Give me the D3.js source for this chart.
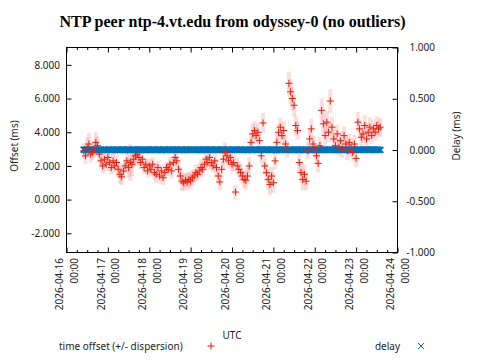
<!DOCTYPE html>
<html>
<head>
<meta charset="utf-8">
<script src="https://cdn.jsdelivr.net/npm/d3@7"></script>
<style>
html,body{margin:0;padding:0;background:#fff;}
svg{display:block;}
</style>
</head>
<body>
<svg id="chart" width="480" height="360"></svg>
<script>
// ---- data ----
const title = "NTP peer ntp-4.vt.edu from odyssey-0 (no outliers)";
const dayLabels = ["2026-04-16","2026-04-17","2026-04-18","2026-04-19","2026-04-20","2026-04-21","2026-04-22","2026-04-23","2026-04-24"];
const timeLabel = "00:00";
const offsetTicks = [-2, 0, 2, 4, 6, 8];
const delayTicks = [-1, -0.5, 0, 0.5, 1];
// hours after 2026-04-16 00:00 UTC
const hours = [10,11,12,13,14,15,16,17,18,19,20,21,22,23,24,25,26,27,28,29,30,31,32,33,34,35,36,37,38,39,
  40,41,42,43,44,45,46,47,48,49,50,51,52,53,54,55,56,57,58,59,60,61,62,63,64,65,66,67,68,69,
  70,71,72,73,74,75,76,77,78,79,80,81,82,83,84,85,86,87,88,89,90,91,92,93,94,95,96,97,98,99,
  100,101,102,103,104,105,106,107,108,109,110,111,112,113,114,115,116,117,118,119,
  120,121,122,123,124,125,126,127,128,129,130,131,132,133,134,135,136,137,138,139,
  140,141,142,143,144,145,146,147,148,149,150,151,152,153,154,155,156,157,158,159,
  160,161,162,163,164,165,166,167,168,169,170,171,172,173,174,175,176,177,178,179,180,181,182];
// time offset (ms)
const offsets = [2.9,2.6,3.1,3.3,2.7,2.8,3.0,3.4,3.2,2.7,
  2.3,2.0,2.4,2.1,2.5,2.2,1.9,2.3,2.0,2.2,
  1.8,1.5,1.35,1.7,2.0,2.3,1.9,2.2,2.1,2.4,
  2.6,2.7,2.5,2.2,2.4,1.9,2.1,1.7,2.0,1.8,
  2.1,1.6,1.5,1.9,1.4,1.7,1.3,1.6,1.9,1.8,
  2.1,1.7,2.2,2.5,2.3,1.8,1.4,1.1,1.0,1.15,
  1.05,1.2,1.1,1.3,1.4,1.6,1.5,1.7,1.9,1.8,
  2.1,2.4,2.2,2.5,2.2,2.0,2.3,1.9,1.4,1.05,
  1.8,2.4,2.8,2.6,2.3,2.5,2.1,2.2,0.45,2.0,
  1.8,1.6,1.4,1.2,1.15,1.4,2.0,3.4,3.9,4.1,
  3.8,4.0,3.5,2.6,4.55,2.0,1.6,1.2,0.9,1.4,
  1.0,2.3,3.4,4.0,4.3,3.8,4.1,3.3,3.0,6.9,
  6.4,6.0,5.6,4.4,4.1,2.2,1.6,1.2,1.5,1.1,
  2.9,3.6,4.2,3.3,3.0,2.6,2.15,3.2,5.3,4.5,
  3.8,4.6,4.0,5.85,4.3,3.6,3.2,3.9,3.1,3.5,
  3.0,3.8,3.3,2.9,3.4,3.1,2.8,3.3,2.45,4.6,
  4.2,3.7,3.9,4.4,3.6,4.0,4.3,3.8,4.2,4.0,
  4.4,4.2,4.3];
// dispersion (ms)
const dispersions = [0.45,0.5,0.6,0.65,0.5,0.45,0.5,0.6,0.55,0.45,
  0.4,0.45,0.5,0.4,0.45,0.5,0.4,0.45,0.4,0.45,
  0.5,0.55,0.5,0.45,0.4,0.5,0.6,1.1,0.7,0.5,
  0.55,0.5,0.45,0.4,0.45,0.4,0.35,0.4,0.45,0.4,
  0.4,0.45,0.5,0.4,0.45,0.4,0.45,0.4,0.35,0.4,
  0.4,0.45,0.4,0.45,0.4,0.45,0.5,0.55,0.5,0.45,
  0.5,0.45,0.5,0.45,0.4,0.45,0.4,0.45,0.5,0.45,
  0.45,0.5,0.45,0.5,0.45,0.4,0.45,0.5,0.45,0.5,
  0.5,0.55,0.6,0.5,0.45,0.5,0.45,0.5,0.45,0.5,
  0.45,0.5,0.45,0.5,0.55,0.5,0.5,0.55,0.6,0.55,
  0.5,0.55,0.5,0.5,0.6,0.5,0.55,0.6,0.65,0.55,
  0.6,0.5,0.55,0.5,0.55,0.5,0.55,0.5,0.5,0.7,
  0.75,0.7,0.65,0.6,0.55,0.6,0.6,0.65,0.6,0.55,
  0.5,0.55,0.6,0.5,0.55,0.5,0.55,0.5,0.7,0.65,
  0.6,0.65,0.6,0.7,0.6,0.55,0.5,0.55,0.5,0.55,
  0.5,0.55,0.5,0.55,0.5,0.55,0.5,0.55,0.5,0.6,
  0.55,0.5,0.55,0.6,0.5,0.55,0.6,0.5,0.55,0.5,
  0.55,0.5,0.55];
// delay (ms)
const delays = [0.004,0.002,0.005,0.001,0.003,0.000,0.002,0.004,0.001,0.003,
  0.002,-0.001,0.003,0.001,0.004,0.002,0.000,0.003,0.001,0.002,
  0.003,0.001,0.004,0.002,0.000,0.003,0.002,0.001,0.004,0.002,
  0.001,0.003,0.002,0.004,0.001,0.002,0.000,0.003,0.002,0.001,
  0.004,0.002,0.001,0.003,0.002,0.000,0.002,0.004,0.001,0.003,
  0.002,0.001,0.003,0.002,0.004,0.001,0.002,0.003,0.000,0.002,
  0.003,0.001,0.002,0.004,0.002,0.001,0.003,0.002,0.000,0.003,
  0.002,0.004,0.001,0.002,0.003,0.001,0.002,0.004,0.002,0.001,
  0.003,0.002,0.000,0.002,0.004,0.001,0.003,0.002,0.001,0.003,
  0.002,0.004,0.001,0.002,0.003,0.000,0.002,0.003,0.001,0.004,
  0.002,0.001,0.003,0.002,0.004,0.001,0.002,0.003,0.001,0.002,
  0.004,0.002,0.000,0.003,0.001,0.002,0.004,0.002,0.001,0.003,
  0.002,0.001,0.003,0.004,0.002,0.000,0.002,0.003,0.001,0.002,
  0.004,0.001,0.002,0.003,0.002,0.001,0.004,0.002,0.000,0.003,
  0.002,0.001,0.003,0.002,0.004,0.001,0.002,0.003,0.002,0.001,
  0.003,0.002,0.004,0.001,0.002,0.000,0.003,0.002,0.001,0.004,
  0.002,0.003,0.001,0.002,0.004,0.002,0.001,0.003,0.002,0.001,
  0.003,0.002,0.001];
const legendLabels = ["time offset (+/- dispersion)", "delay"];
const axisTitles = {x: "UTC", y: "Offset (ms)", y2: "Delay (ms)"};

// ---- layout ----
const L = 66.5, R = 397.5, T = 47.5, B = 252.5;
const RED = "#e5200f", BLUE = "#0072b6", PINK = "rgb(238,110,110)";
const FONT = "'Noto Sans', 'Open Sans', sans-serif";

const parseDay = d3.utcParse("%Y-%m-%d");
const startDate = parseDay(dayLabels[0]);
const times = hours.map(h => d3.utcHour.offset(startDate, h));

const x = d3.scaleUtc().domain([parseDay(dayLabels[0]), parseDay(dayLabels[dayLabels.length-1])]).range([L, R]);
const y = d3.scaleLinear().domain([-3.14, 9.03]).range([B, T]);
const y2 = d3.scaleLinear().domain([-1, 1]).range([B, T]);

const svg = d3.select("#chart");

// title
svg.append("text").attr("x", 232.5).attr("y", 27).attr("text-anchor", "middle")
  .attr("font-family", "'Liberation Serif', 'Times New Roman', serif").attr("font-weight", "bold")
  .attr("font-size", "16px").attr("fill", "#000").text(title);

const plot = svg.append("g");

// dispersion bars
plot.append("g").selectAll("rect").data(hours).join("rect")
  .attr("x", (d, i) => x(times[i]) - 2)
  .attr("width", 4)
  .attr("y", (d, i) => y(offsets[i] + dispersions[i]))
  .attr("height", (d, i) => y(offsets[i] - dispersions[i]) - y(offsets[i] + dispersions[i]))
  .attr("fill", PINK).attr("fill-opacity", 0.22);

// delay markers (x)
const xPath = "M-3,-3L3,3M-3,3L3,-3";
const plusPath = "M-3.5,0H3.5M0,-3.5V3.5";
plot.append("g").selectAll("path").data(hours).join("path")
  .attr("transform", (d, i) => `translate(${x(times[i])},${y2(delays[i])})`)
  .attr("d", xPath).attr("stroke", BLUE).attr("stroke-width", 2).attr("fill", "none");

// offset markers (+)
plot.append("g").selectAll("path").data(hours).join("path")
  .attr("transform", (d, i) => `translate(${x(times[i])},${y(offsets[i])})`)
  .attr("d", plusPath).attr("stroke", RED).attr("stroke-width", 1).attr("fill", "none");

// axes
const dayTicks = dayLabels.map(parseDay);
const minorTicks = x.ticks(d3.utcHour.every(6)).filter(t => t.getUTCHours() !== 0);

function styleAxis(g) {
  g.select(".domain").remove();
  g.selectAll("line").attr("stroke", "#000").attr("stroke-width", 1);
  g.selectAll("text").attr("font-family", FONT).attr("font-size", "10px").attr("fill", "#222");
}

svg.append("g").attr("transform", `translate(0,${B})`)
  .call(d3.axisBottom(x).tickValues(dayTicks).tickSize(-5).tickFormat(""))
  .call(styleAxis);
svg.append("g").attr("transform", `translate(0,${B})`)
  .call(d3.axisBottom(x).tickValues(minorTicks).tickSize(-2.5).tickFormat(""))
  .call(styleAxis);
svg.append("g").attr("transform", `translate(0,${T})`)
  .call(d3.axisTop(x).tickValues(dayTicks).tickSize(-5).tickFormat(""))
  .call(styleAxis);
svg.append("g").attr("transform", `translate(0,${T})`)
  .call(d3.axisTop(x).tickValues(minorTicks).tickSize(-2.5).tickFormat(""))
  .call(styleAxis);

svg.append("g").attr("transform", `translate(${L},0)`)
  .call(d3.axisLeft(y).tickValues(offsetTicks).tickSize(-5).tickPadding(6.5).tickFormat(d => d.toFixed(3)))
  .call(styleAxis);
const ry = svg.append("g").attr("transform", `translate(${R},0)`)
  .call(d3.axisRight(y2).tickValues(delayTicks).tickSize(-5).tickFormat(d => d.toFixed(3)))
  .call(styleAxis);
ry.selectAll("text").attr("text-anchor", "end").attr("x", 37.5);

// frame
svg.append("rect").attr("x", L).attr("y", T).attr("width", R - L).attr("height", B - T)
  .attr("fill", "none").attr("stroke", "#000").attr("stroke-width", 1);

// x tick labels (rotated, two lines)
const xl = svg.append("g").selectAll("g").data(dayTicks).join("g")
  .attr("transform", d => `translate(${x(d)},${B + 5.5}) rotate(-90)`);
xl.append("text").attr("x", 0).attr("y", -3.2).attr("text-anchor", "end")
  .attr("font-family", FONT).attr("font-size", "10px").attr("fill", "#222")
  .text((d, i) => dayLabels[i]);
xl.append("text").attr("x", 0).attr("y", 11.6).attr("text-anchor", "end")
  .attr("font-family", FONT).attr("font-size", "10px").attr("fill", "#222")
  .text(timeLabel);

// axis titles
svg.append("text").attr("x", 232).attr("y", 339).attr("text-anchor", "middle")
  .attr("font-family", FONT).attr("font-size", "10px").attr("fill", "#222").text(axisTitles.x);
svg.append("text").attr("transform", "translate(17.5,146) rotate(-90)").attr("text-anchor", "middle")
  .attr("font-family", FONT).attr("font-size", "10px").attr("fill", "#222").text(axisTitles.y);
svg.append("text").attr("transform", "translate(459.5,136) rotate(-90)").attr("text-anchor", "middle")
  .attr("font-family", FONT).attr("font-size", "10px").attr("fill", "#222").text(axisTitles.y2);

// legend
svg.append("text").attr("x", 59).attr("y", 349.5).attr("font-family", FONT).attr("font-size", "10px")
  .attr("fill", "#222").text(legendLabels[0]);
svg.append("path").attr("transform", "translate(211,346)").attr("d", plusPath)
  .attr("stroke", RED).attr("stroke-width", 1).attr("fill", "none");
svg.append("text").attr("x", 400).attr("y", 349.5).attr("text-anchor", "end").attr("font-family", FONT)
  .attr("font-size", "10px").attr("fill", "#222").text(legendLabels[1]);
svg.append("path").attr("transform", "translate(421,346)").attr("d", "M-3,-3L3,3M-3,3L3,-3")
  .attr("stroke", BLUE).attr("stroke-width", 1).attr("fill", "none");
</script>
</body>
</html>
